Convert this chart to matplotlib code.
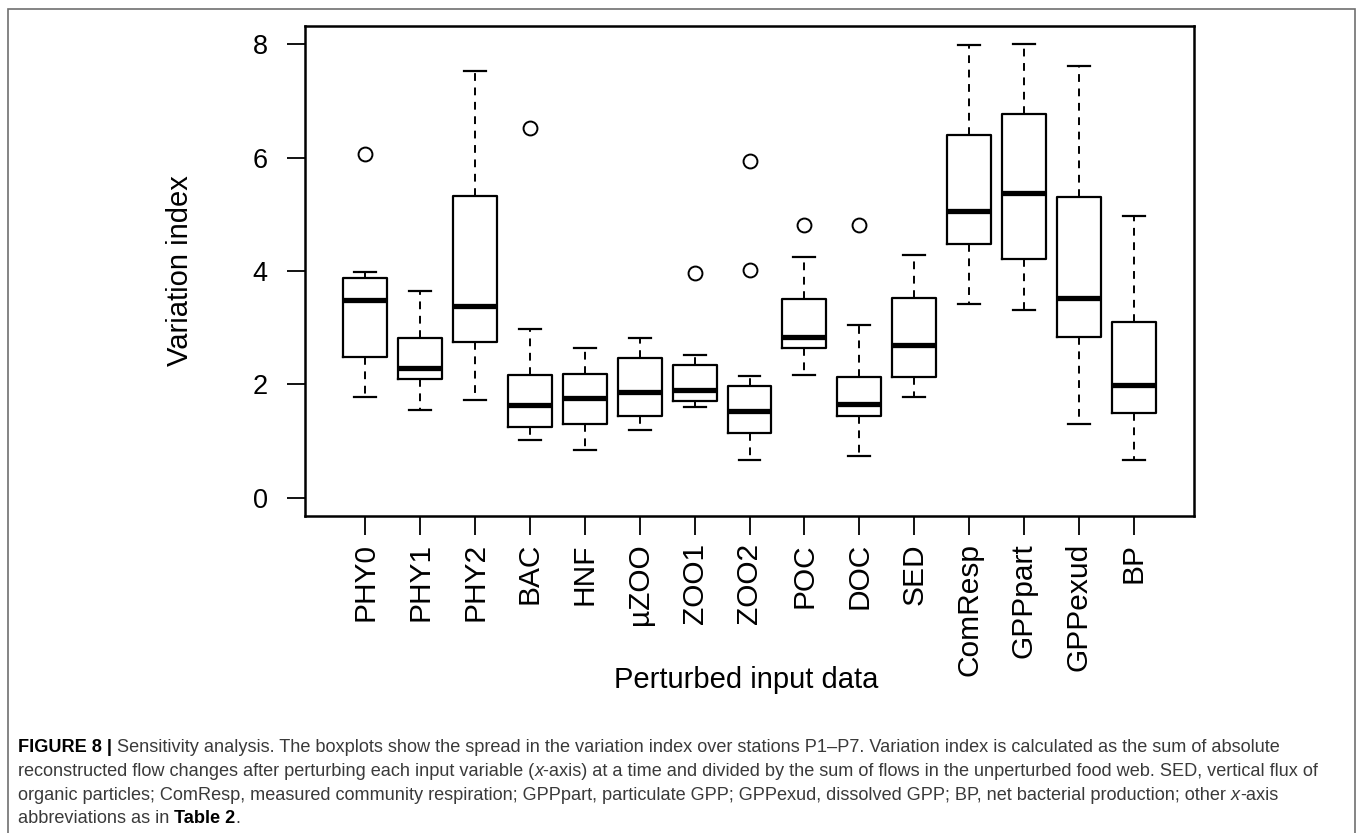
import matplotlib
matplotlib.use("Agg")
import matplotlib.pyplot as plt
from matplotlib import font_manager
from matplotlib.patches import Rectangle

plt.rcParams['font.family'] = ['Liberation Sans', 'DejaVu Sans']

# values (variation index per perturbed input)
labels = ["PHY0", "PHY1", "PHY2", "BAC", "HNF", "µZOO", "ZOO1", "ZOO2",
          "POC", "DOC", "SED", "ComResp", "GPPpart", "GPPexud", "BP"]
whislo = [1.78, 1.55, 1.72, 1.02, 0.84, 1.20, 1.60, 0.67, 2.16, 0.73, 1.77, 3.42, 3.31, 1.30, 0.66]
q1 = [2.48, 2.10, 2.74, 1.25, 1.31, 1.44, 1.71, 1.15, 2.64, 1.45, 2.13, 4.47, 4.21, 2.84, 1.49]
med = [3.48, 2.29, 3.38, 1.63, 1.76, 1.86, 1.90, 1.54, 2.84, 1.66, 2.70, 5.05, 5.38, 3.53, 1.99]
q3 = [3.88, 2.82, 5.32, 2.17, 2.19, 2.46, 2.34, 1.98, 3.50, 2.13, 3.53, 6.40, 6.77, 5.30, 3.10]
whishi = [3.99, 3.65, 7.52, 2.97, 2.64, 2.81, 2.52, 2.14, 4.25, 3.04, 4.28, 7.98, 8.00, 7.62, 4.97]
fliers = [[6.06], [], [], [6.53], [], [], [3.97], [4.01, 5.94], [4.81], [4.81], [], [], [], [], []]

stats = []
for i in range(len(labels)):
    stats.append(dict(label=labels[i], whislo=whislo[i], q1=q1[i], med=med[i],
                      q3=q3[i], whishi=whishi[i], fliers=fliers[i]))

W, H = 1357, 833
fig = plt.figure(figsize=(W / 100, H / 100), dpi=100)
ax = fig.add_axes([305 / W, 1 - 516 / H, (1194 - 305) / W, (516 - 26) / H])

positions = list(range(1, len(labels) + 1))
ax.bxp(stats, positions=positions, widths=0.8, capwidths=0.4,
       boxprops=dict(color='black', linewidth=1.6),
       medianprops=dict(color='black', linewidth=3.8, solid_capstyle='butt'),
       whiskerprops=dict(color='black', linewidth=1.4, linestyle=(0, (4, 3.4))),
       capprops=dict(color='black', linewidth=1.6),
       flierprops=dict(marker='o', markerfacecolor='none', markeredgecolor='black',
                       markersize=10, markeredgewidth=1.4))

ax.set_xlim(-0.1, 16.1)
ax.set_ylim(-0.32, 8.32)
ax.set_yticks([0, 2, 4, 6, 8])
ax.set_xticks(positions)
ax.set_xticklabels(labels, rotation=90, fontsize=21.5)
ax.tick_params(axis='x', length=13.5, width=1.3, pad=6)
ax.tick_params(axis='y', length=13, width=1.3, pad=14, labelsize=19.5)
for sp in ax.spines.values():
    sp.set_linewidth(1.8)

ax.set_ylabel("Variation index", fontsize=21, va='center')
ax.yaxis.set_label_coords(-0.1406, 0.5)
ax.set_xlabel("Perturbed input data", fontsize=21, va='center')
ax.xaxis.set_label_coords(0.496, -0.3347)

# outer frame of the figure panel (open at the bottom)
fig.add_artist(Rectangle((8 / W, -0.05), (1355 - 8) / W, 1.05 - 9 / H,
                         transform=fig.transFigure, fill=False,
                         edgecolor='#707070', linewidth=1.2, clip_on=False))

# caption
names = {f.name for f in font_manager.fontManager.ttflist}
cap_font = 'Liberation Sans Narrow' if 'Liberation Sans Narrow' in names else 'Liberation Sans'
cap_color = '#3a3a3a'

line1 = [("FIGURE 8 |", dict(weight='bold', color='black')),
         (" Sensitivity analysis. The boxplots show the spread in the variation index over "
          "stations P1–P7. Variation index is calculated as the sum of absolute", {})]
line2 = [("reconstructed flow changes after perturbing each input variable (", {}),
         ("x", dict(style='italic')),
         ("-axis) at a time and divided by the sum of flows in the unperturbed food web. "
          "SED, vertical flux of", {})]
line3 = [("organic particles; ComResp, measured community respiration; GPPpart, particulate GPP; "
          "GPPexud, dissolved GPP; BP, net bacterial production; other ", {}),
         ("x", dict(style='italic')),
         ("-axis", {})]
line4 = [("abbreviations as in ", {}),
         ("Table 2", dict(weight='bold', color='black')),
         (".", {})]

# fit the caption size to the widest line
renderer = fig.canvas.get_renderer()
tmp = fig.text(0, 0, "".join(s for s, _ in line2), fontsize=10, family=cap_font)
wtmp = tmp.get_window_extent(renderer).width
tmp.remove()
cap_size = 10 * (1327 - 18) / wtmp


def draw_line(runs, y):
    prev = None
    for s, kw in runs:
        props = dict(fontsize=cap_size, family=cap_font, color=cap_color)
        props.update(kw)
        if prev is None:
            prev = fig.text(18 / W, 1 - y / H, s, va='baseline', ha='left', **props)
        else:
            prev = ax.annotate(s, xy=(1, 0), xycoords=prev, va='bottom', ha='left',
                               annotation_clip=False, **props)


draw_line(line1, 752)
draw_line(line2, 776)
draw_line(line3, 800)
draw_line(line4, 823)

fig.savefig("out.png", dpi=100, facecolor='white')
